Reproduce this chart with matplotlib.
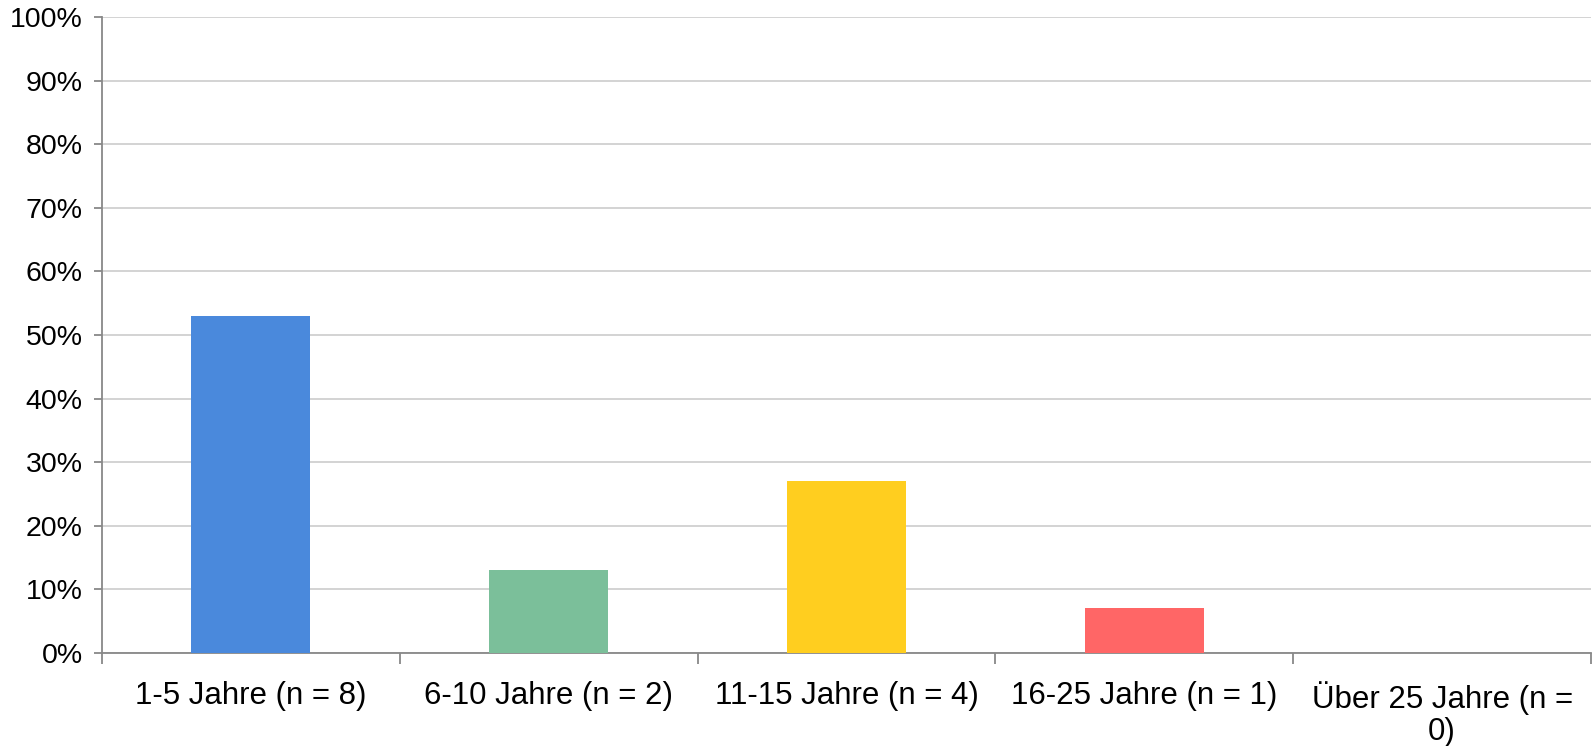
import matplotlib
matplotlib.use("Agg")
import matplotlib.pyplot as plt
import numpy as np

categories = ["1-5 Jahre (n = 8)", "6-10 Jahre (n = 2)", "11-15 Jahre (n = 4)",
              "16-25 Jahre (n = 1)", "Über 25 Jahre (n =\n0)"]
values = [53, 13, 27, 7, 0]
colors = ["#4A89DC", "#7BBF9A", "#FFCE1F", "#FF6666", "#AAAAAA"]
yticks = [0, 10, 20, 30, 40, 50, 60, 70, 80, 90, 100]

plt.rcParams['font.family'] = ['Liberation Sans', 'DejaVu Sans']

W, H = 1595, 746
fig = plt.figure(figsize=(W / 100, H / 100), dpi=100)
left, right, top, bottom = 102, 1591, 17, 653
ax = fig.add_axes([left / W, 1 - bottom / H, (right - left) / W, (bottom - top) / H])

x = np.arange(len(categories))
ax.bar(x, values, width=0.40, color=colors, zorder=3)

ax.set_xlim(-0.5, len(categories) - 0.5)
ax.set_ylim(0, 100)
ax.set_yticks(yticks)
ax.set_yticklabels([f"{v}%" for v in yticks], fontsize=20.5)
ax.yaxis.grid(True, color="#D0D0D0", linewidth=1.3, zorder=0)
ax.set_axisbelow(True)

ax.set_xticks(x)
ax.set_xticklabels(categories, fontsize=22.5, linespacing=1.12)
ax.tick_params(axis='x', length=0, pad=20)
ax.set_xticks(np.arange(-0.5, len(categories)), minor=True)
ax.tick_params(axis='x', which='minor', length=8, width=1.3, color="#888888", direction='out')
ax.tick_params(axis='y', length=6, width=1.3, color="#888888", pad=8)

for s in ["top", "right"]:
    ax.spines[s].set_visible(False)
for s in ["left", "bottom"]:
    ax.spines[s].set_color("#888888")
    ax.spines[s].set_linewidth(1.3)

fig.savefig("out.png", dpi=100)
